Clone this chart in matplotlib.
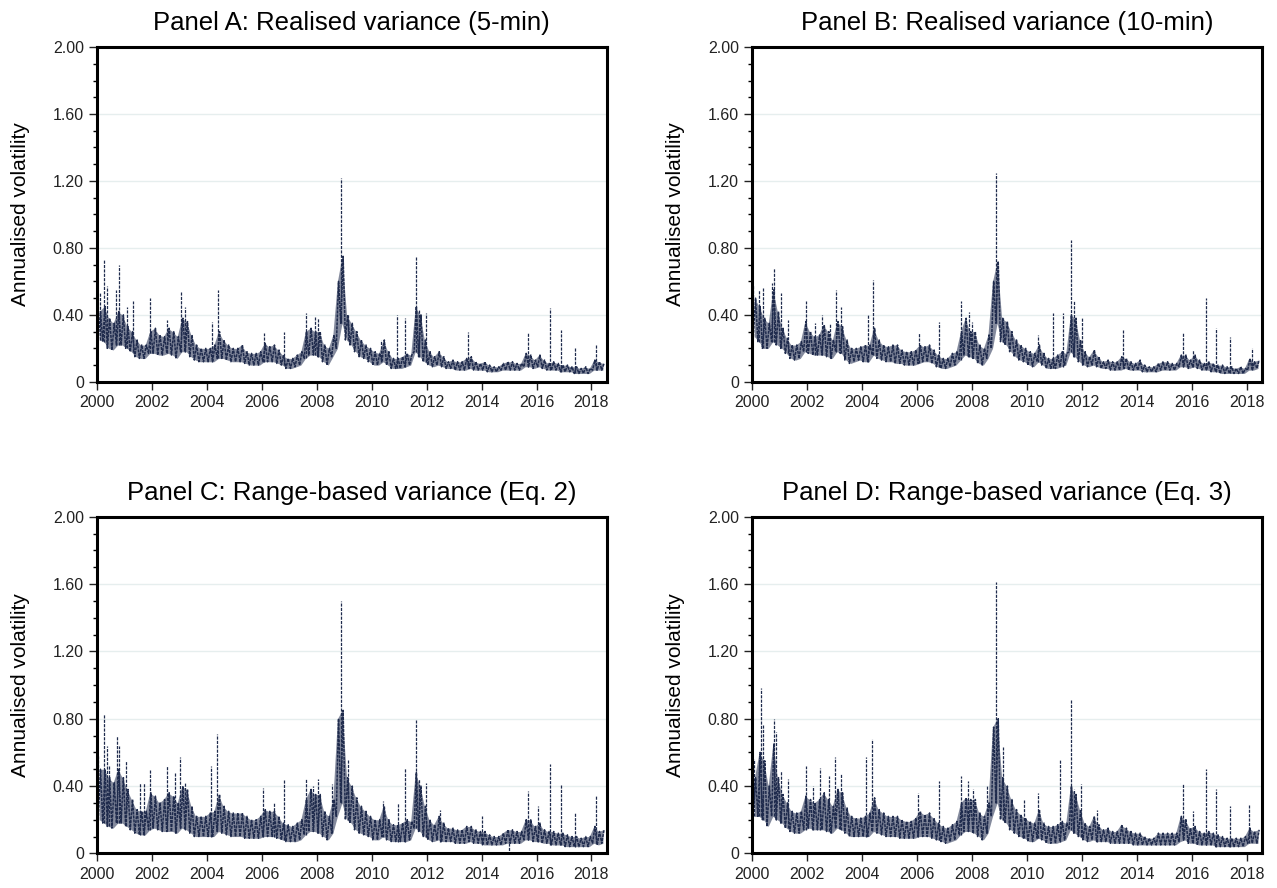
import numpy as np
import matplotlib.pyplot as plt

plt.rcParams['font.family'] = ['Liberation Sans', 'DejaVu Sans']

# Bi-monthly band of daily annualised volatility (low / high), Jan 2000 - Jun 2018
# plus isolated spikes (decimal year, value)
a_lo = [0.25,0.24,0.20,0.19,0.22,0.22, 0.20,0.18,0.15,0.14,0.14,0.17, 0.17,0.16,0.16,0.17,0.16,0.14,
        0.18,0.18,0.15,0.13,0.12,0.12, 0.12,0.12,0.14,0.14,0.13,0.12, 0.12,0.12,0.11,0.10,0.10,0.10,
        0.12,0.12,0.12,0.11,0.10,0.08, 0.08,0.09,0.10,0.14,0.16,0.16, 0.15,0.12,0.10,0.15,0.20,0.35,
        0.25,0.22,0.18,0.15,0.14,0.12, 0.10,0.10,0.12,0.10,0.08,0.08, 0.08,0.09,0.10,0.18,0.15,0.12,
        0.10,0.09,0.10,0.09,0.08,0.08, 0.07,0.07,0.07,0.08,0.07,0.07, 0.07,0.06,0.06,0.06,0.07,0.07,
        0.07,0.07,0.07,0.09,0.09,0.08, 0.09,0.08,0.07,0.07,0.07,0.06, 0.06,0.06,0.05,0.05,0.05,0.05,
        0.07,0.07,0.07]
a_hi = [0.42,0.45,0.38,0.35,0.42,0.40, 0.33,0.30,0.25,0.22,0.22,0.30, 0.32,0.28,0.27,0.32,0.30,0.27,
        0.38,0.36,0.28,0.22,0.20,0.20, 0.20,0.22,0.30,0.25,0.22,0.20, 0.20,0.22,0.18,0.17,0.17,0.18,
        0.23,0.21,0.22,0.19,0.16,0.14, 0.14,0.16,0.18,0.30,0.32,0.30, 0.30,0.22,0.20,0.28,0.60,0.75,
        0.40,0.35,0.30,0.25,0.22,0.20, 0.18,0.17,0.25,0.18,0.14,0.14, 0.15,0.17,0.16,0.45,0.40,0.25,
        0.18,0.15,0.18,0.15,0.12,0.13, 0.12,0.12,0.14,0.15,0.12,0.11, 0.12,0.10,0.09,0.09,0.11,0.12,
        0.12,0.11,0.11,0.17,0.16,0.13, 0.16,0.13,0.11,0.12,0.11,0.10, 0.10,0.09,0.09,0.08,0.09,0.08,
        0.13,0.12,0.11]
a_spk_x = [2000.12, 2000.24, 2000.38, 2000.68, 2000.80, 2001.08, 2001.32, 2001.92, 2002.55, 2003.05,
           2003.22, 2004.20, 2004.42, 2006.07, 2006.82, 2007.62, 2007.92, 2008.05, 2008.87, 2009.15,
           2010.35, 2010.92, 2011.22, 2011.62, 2011.72, 2011.98, 2013.52, 2015.68, 2016.50, 2016.88,
           2017.40, 2018.17]
a_spk_y = [0.53, 0.73, 0.57, 0.55, 0.70, 0.45, 0.48, 0.50, 0.37, 0.54,
           0.45, 0.36, 0.55, 0.29, 0.30, 0.41, 0.39, 0.38, 1.22, 0.40,
           0.25, 0.40, 0.38, 0.75, 0.43, 0.41, 0.30, 0.29, 0.44, 0.31,
           0.21, 0.22]

b_lo = [0.27,0.24,0.20,0.20,0.24,0.22, 0.20,0.17,0.14,0.13,0.14,0.18, 0.17,0.16,0.16,0.16,0.15,0.14,
        0.18,0.17,0.13,0.11,0.12,0.13, 0.12,0.12,0.16,0.14,0.13,0.12, 0.12,0.11,0.11,0.10,0.10,0.10,
        0.11,0.12,0.12,0.11,0.09,0.08, 0.08,0.09,0.10,0.13,0.16,0.15, 0.14,0.11,0.10,0.14,0.20,0.35,
        0.24,0.22,0.18,0.15,0.13,0.12, 0.10,0.09,0.12,0.10,0.08,0.08, 0.08,0.09,0.10,0.18,0.15,0.12,
        0.10,0.09,0.10,0.09,0.08,0.08, 0.07,0.07,0.07,0.08,0.07,0.07, 0.07,0.06,0.06,0.06,0.06,0.07,
        0.07,0.07,0.07,0.09,0.09,0.08, 0.09,0.08,0.07,0.07,0.06,0.06, 0.05,0.05,0.05,0.05,0.05,0.05,
        0.07,0.07,0.08]
b_hi = [0.50,0.45,0.38,0.35,0.55,0.42, 0.32,0.26,0.22,0.22,0.24,0.36, 0.30,0.27,0.28,0.34,0.30,0.25,
        0.36,0.33,0.25,0.20,0.20,0.21, 0.22,0.22,0.32,0.25,0.22,0.21, 0.22,0.22,0.19,0.18,0.18,0.19,
        0.22,0.21,0.22,0.19,0.16,0.14, 0.14,0.17,0.18,0.30,0.38,0.30, 0.30,0.22,0.20,0.28,0.60,0.72,
        0.38,0.36,0.30,0.25,0.22,0.20, 0.18,0.17,0.22,0.17,0.14,0.14, 0.16,0.18,0.17,0.40,0.38,0.25,
        0.18,0.15,0.19,0.15,0.12,0.13, 0.12,0.12,0.15,0.14,0.12,0.11, 0.13,0.10,0.09,0.09,0.11,0.12,
        0.12,0.11,0.11,0.16,0.16,0.13, 0.16,0.13,0.11,0.12,0.11,0.10, 0.10,0.09,0.09,0.08,0.09,0.08,
        0.14,0.12,0.13]
b_spk_x = [2000.02, 2000.25, 2000.38, 2000.72, 2000.78, 2001.05, 2001.30, 2001.95, 2002.30, 2002.55,
           2002.85, 2003.05, 2003.22, 2004.20, 2004.40, 2006.08, 2006.80, 2007.60, 2007.90, 2008.00,
           2008.87, 2009.15, 2010.40, 2010.95, 2011.30, 2011.62, 2011.72, 2012.00, 2013.50, 2015.70,
           2016.05, 2016.52, 2016.88, 2017.40, 2018.20]
b_spk_y = [0.58, 0.55, 0.56, 0.59, 0.68, 0.53, 0.37, 0.48, 0.35, 0.40,
           0.35, 0.55, 0.45, 0.40, 0.61, 0.29, 0.36, 0.48, 0.42, 0.36,
           1.25, 0.38, 0.28, 0.41, 0.41, 0.85, 0.48, 0.38, 0.31, 0.30,
           0.19, 0.50, 0.32, 0.27, 0.20]

c_lo = [0.20,0.18,0.16,0.15,0.18,0.18, 0.16,0.14,0.12,0.11,0.11,0.14, 0.15,0.14,0.13,0.13,0.13,0.12,
        0.15,0.14,0.12,0.10,0.10,0.10, 0.10,0.10,0.13,0.12,0.11,0.10, 0.10,0.10,0.09,0.09,0.09,0.09,
        0.10,0.10,0.10,0.09,0.08,0.07, 0.07,0.07,0.08,0.11,0.13,0.13, 0.12,0.10,0.08,0.12,0.22,0.30,
        0.20,0.18,0.14,0.12,0.11,0.10, 0.08,0.08,0.10,0.08,0.07,0.07, 0.07,0.07,0.08,0.15,0.13,0.10,
        0.08,0.07,0.08,0.07,0.07,0.07, 0.06,0.06,0.06,0.07,0.06,0.06, 0.05,0.05,0.05,0.05,0.05,0.06,
        0.06,0.06,0.06,0.08,0.08,0.07, 0.07,0.06,0.06,0.05,0.05,0.05, 0.04,0.04,0.04,0.04,0.04,0.04,
        0.06,0.05,0.06]
c_hi = [0.50,0.50,0.45,0.42,0.50,0.45, 0.38,0.32,0.26,0.25,0.25,0.36, 0.34,0.30,0.32,0.36,0.34,0.30,
        0.40,0.38,0.28,0.22,0.22,0.22, 0.24,0.25,0.35,0.28,0.25,0.24, 0.24,0.24,0.22,0.20,0.20,0.22,
        0.26,0.25,0.25,0.22,0.18,0.17, 0.16,0.18,0.20,0.32,0.38,0.35, 0.35,0.25,0.22,0.32,0.80,0.85,
        0.45,0.40,0.33,0.28,0.25,0.22, 0.20,0.20,0.28,0.20,0.17,0.17, 0.18,0.20,0.19,0.48,0.40,0.28,
        0.20,0.17,0.22,0.18,0.15,0.15, 0.14,0.14,0.16,0.16,0.14,0.13, 0.13,0.11,0.10,0.10,0.12,0.14,
        0.14,0.13,0.13,0.20,0.20,0.16, 0.18,0.14,0.13,0.13,0.12,0.12, 0.11,0.10,0.10,0.09,0.10,0.10,
        0.16,0.13,0.14]
c_spk_x = [2000.02, 2000.25, 2000.38, 2000.45, 2000.72, 2000.80, 2001.05, 2001.55, 2001.72, 2001.92,
           2002.55, 2002.85, 2003.02, 2003.20, 2004.15, 2004.38, 2006.05, 2006.45, 2006.80, 2007.60,
           2007.85, 2008.05, 2008.55, 2008.87, 2009.15, 2010.40, 2010.95, 2011.20, 2011.62, 2011.72,
           2011.98, 2012.50, 2014.00, 2014.98, 2015.70, 2016.05, 2016.50, 2016.88, 2017.40, 2018.15]
c_spk_y = [0.58, 0.83, 0.64, 0.52, 0.70, 0.64, 0.55, 0.42, 0.42, 0.50,
           0.52, 0.48, 0.57, 0.42, 0.52, 0.71, 0.39, 0.30, 0.44, 0.44,
           0.40, 0.44, 0.41, 1.50, 0.56, 0.31, 0.30, 0.51, 0.79, 0.44,
           0.42, 0.26, 0.22, 0.00, 0.37, 0.28, 0.53, 0.41, 0.24, 0.34]

d_lo = [0.22,0.22,0.20,0.16,0.22,0.20, 0.18,0.15,0.13,0.12,0.12,0.14, 0.15,0.14,0.14,0.14,0.13,0.12,
        0.15,0.14,0.12,0.10,0.10,0.10, 0.10,0.10,0.13,0.12,0.11,0.10, 0.10,0.10,0.09,0.09,0.09,0.09,
        0.10,0.10,0.10,0.09,0.08,0.07, 0.06,0.07,0.08,0.11,0.13,0.13, 0.12,0.10,0.08,0.12,0.22,0.30,
        0.20,0.18,0.14,0.12,0.10,0.09, 0.07,0.07,0.09,0.08,0.06,0.06, 0.06,0.07,0.08,0.14,0.12,0.10,
        0.08,0.07,0.08,0.07,0.07,0.07, 0.06,0.06,0.06,0.06,0.06,0.05, 0.05,0.05,0.05,0.05,0.05,0.05,
        0.05,0.05,0.05,0.07,0.08,0.06, 0.06,0.05,0.05,0.05,0.05,0.04, 0.04,0.04,0.04,0.04,0.04,0.04,
        0.06,0.06,0.06]
d_hi = [0.45,0.60,0.55,0.40,0.65,0.45, 0.35,0.30,0.25,0.24,0.25,0.34, 0.32,0.30,0.32,0.36,0.32,0.28,
        0.38,0.36,0.27,0.22,0.21,0.21, 0.22,0.24,0.33,0.26,0.24,0.22, 0.22,0.22,0.20,0.19,0.19,0.21,
        0.25,0.23,0.24,0.21,0.18,0.16, 0.15,0.17,0.19,0.30,0.33,0.32, 0.32,0.24,0.22,0.30,0.75,0.80,
        0.45,0.40,0.32,0.26,0.23,0.21, 0.19,0.18,0.26,0.18,0.16,0.16, 0.17,0.19,0.18,0.40,0.35,0.26,
        0.18,0.16,0.22,0.17,0.14,0.15, 0.13,0.13,0.17,0.15,0.13,0.12, 0.12,0.10,0.09,0.09,0.12,0.12,
        0.12,0.12,0.12,0.22,0.20,0.15, 0.16,0.13,0.12,0.13,0.12,0.11, 0.10,0.09,0.09,0.09,0.09,0.10,
        0.15,0.13,0.14]
d_spk_x = [2000.08, 2000.25, 2000.32, 2000.38, 2000.78, 2000.85, 2001.05, 2001.32, 2001.95, 2002.22,
           2002.48, 2002.80, 2003.02, 2003.22, 2004.15, 2004.38, 2006.05, 2006.80, 2007.60, 2007.85,
           2008.05, 2008.55, 2008.87, 2009.15, 2009.90, 2010.40, 2011.22, 2011.62, 2011.72, 2011.98,
           2012.55, 2015.70, 2016.05, 2016.52, 2016.88, 2017.40, 2018.10]
d_spk_y = [0.56, 0.55, 0.98, 0.76, 0.80, 0.72, 0.49, 0.44, 0.52, 0.40,
           0.51, 0.46, 0.57, 0.47, 0.57, 0.68, 0.36, 0.43, 0.46, 0.43,
           0.38, 0.40, 1.61, 0.63, 0.32, 0.36, 0.56, 0.91, 0.38, 0.41,
           0.26, 0.41, 0.25, 0.50, 0.38, 0.28, 0.29]

titles = ['Panel A: Realised variance (5-min)', 'Panel B: Realised variance (10-min)',
          'Panel C: Range-based variance (Eq. 2)', 'Panel D: Range-based variance (Eq. 3)']
panels = [(a_lo, a_hi, a_spk_x, a_spk_y), (b_lo, b_hi, b_spk_x, b_spk_y),
          (c_lo, c_hi, c_spk_x, c_spk_y), (d_lo, d_hi, d_spk_x, d_spk_y)]
boxes = [[0.076, 0.570, 0.399, 0.377], [0.589, 0.570, 0.399, 0.377],
         [0.076, 0.039, 0.399, 0.379], [0.589, 0.039, 0.399, 0.379]]

navy = '#1f2b4d'
fig = plt.figure(figsize=(12.77, 8.88), dpi=100)

for box, title, (lo, hi, sx, sy) in zip(boxes, titles, panels):
    ax = fig.add_axes(box)
    lo = np.array(lo)
    hi = np.array(hi)
    t = 2000 + np.arange(len(lo)) / 6.0
    # zigzag between band low and band high within each two-month block
    xs = np.column_stack([t + 1/24, t + 3/24]).ravel()
    ys = np.column_stack([lo, hi]).ravel()
    ax.fill_between(t + 1/12, lo, hi, color=navy, alpha=0.55, lw=0)
    ax.plot(xs, ys, color=navy, lw=1.1, ls=(0, (2, 0.6)))
    idx = np.clip(((np.array(sx) - 2000) * 6).astype(int), 0, len(lo) - 1)
    ax.vlines(sx, lo[idx], sy, color=navy, lw=0.9, linestyles=(0, (2.5, 1)))

    ax.set_xlim(2000, 2018.55)
    ax.set_ylim(0, 2.0)
    ax.set_xticks(range(2000, 2019, 2))
    ax.set_yticks([0, 0.4, 0.8, 1.2, 1.6, 2.0])
    ax.set_yticklabels(['0', '0.40', '0.80', '1.20', '1.60', '2.00'])
    ax.set_yticks(np.arange(0, 2.01, 0.1), minor=True)
    ax.tick_params(axis='both', which='major', labelsize=11.5, length=6, width=1, direction='out', colors='#222222')
    ax.tick_params(axis='y', which='minor', length=3, width=1)
    for v in [0.4, 0.8, 1.2, 1.6]:
        ax.axhline(v, color='#e6eeee', lw=1, zorder=0)
    for s in ax.spines.values():
        s.set_linewidth(2.2)
        s.set_color('black')
    ax.set_ylabel('Annualised volatility', fontsize=15, labelpad=16)
    ax.set_title(title, fontsize=18.5, pad=12)

fig.savefig('out.png', dpi=100)
